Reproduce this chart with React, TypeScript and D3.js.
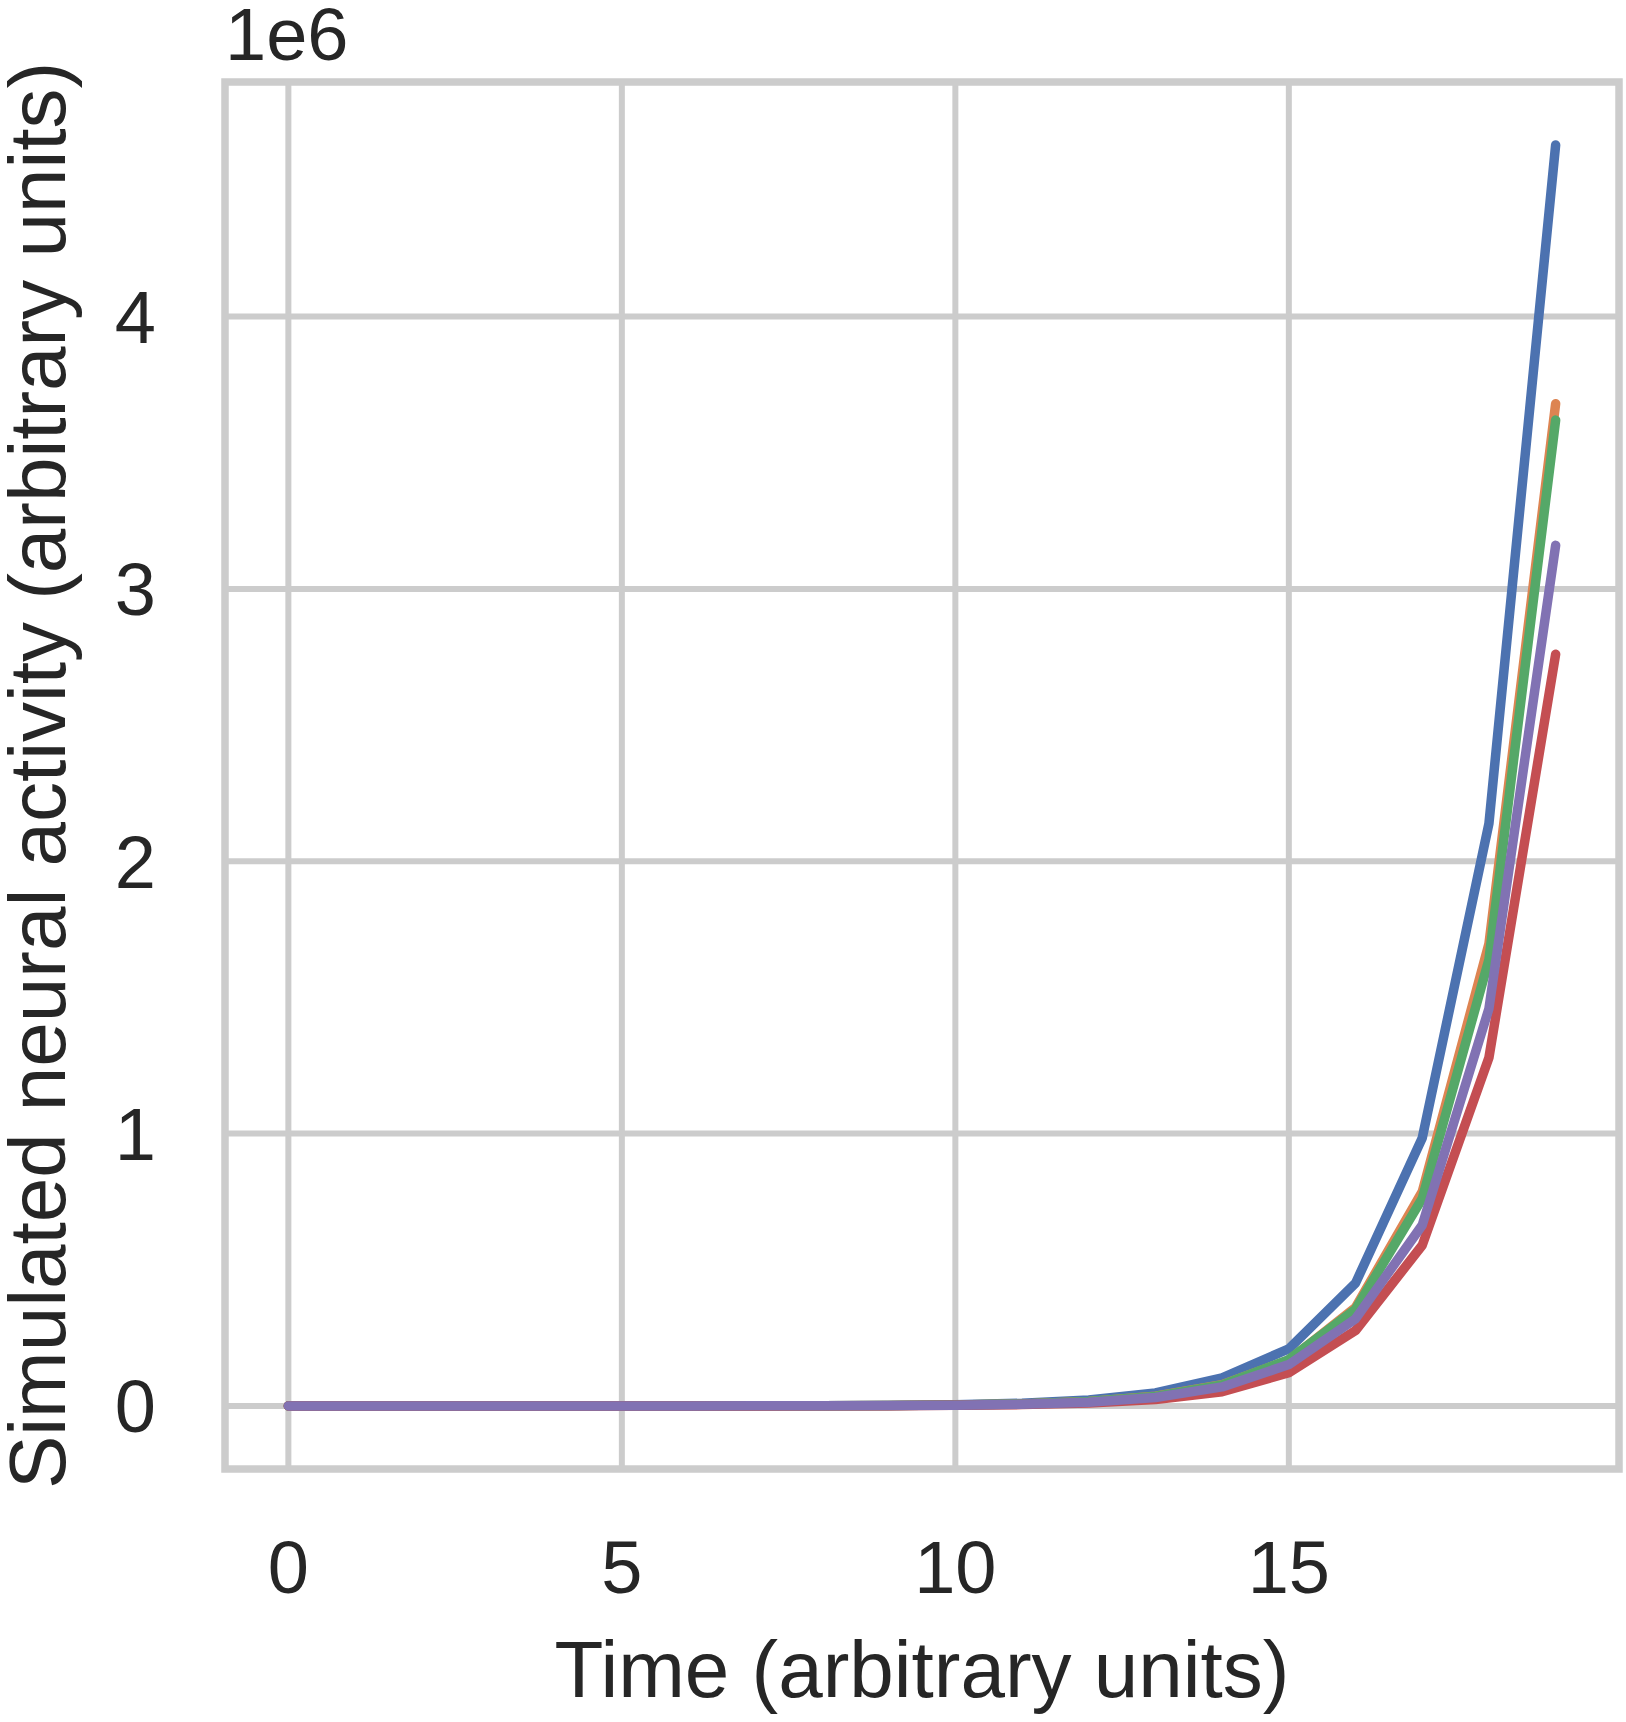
import * as React from 'react';
import * as d3 from 'd3';

// simulated activity per unit, values in millions (offset label 1e6)
const timeSteps = [0, 1, 2, 3, 4, 5, 6, 7, 8, 9, 10, 11, 12, 13, 14, 15, 16, 17, 18, 19];

const unitBlue = [0.000002, 0.000004, 0.000009, 0.00002, 0.00004, 0.00009, 0.0002, 0.0004, 0.0009, 0.002,
  0.0045, 0.0099, 0.022, 0.048, 0.103, 0.21, 0.451, 0.984, 2.139, 4.63];
const unitOrange = [0.000002, 0.000003, 0.000007, 0.000015, 0.00003, 0.00007, 0.00015, 0.0003, 0.0007, 0.0015,
  0.0034, 0.0074, 0.016, 0.036, 0.078, 0.168, 0.362, 0.787, 1.697, 3.68];
const unitGreen = [0.000002, 0.000003, 0.000007, 0.000015, 0.00003, 0.00007, 0.00015, 0.0003, 0.0007, 0.0015,
  0.0033, 0.0072, 0.016, 0.035, 0.077, 0.17, 0.355, 0.762, 1.639, 3.62];
const unitRed = [0.000001, 0.000002, 0.000005, 0.00001, 0.00002, 0.00005, 0.0001, 0.0002, 0.0005, 0.001,
  0.0023, 0.005, 0.011, 0.024, 0.052, 0.122, 0.277, 0.59, 1.279, 2.76];
const unitPurple = [0.000001, 0.000003, 0.000006, 0.000013, 0.00003, 0.00006, 0.00013, 0.0003, 0.0006, 0.0013,
  0.0029, 0.0064, 0.014, 0.031, 0.07, 0.152, 0.32, 0.664, 1.459, 3.16];

const seriesOrder = [unitBlue, unitOrange, unitGreen, unitRed, unitPurple];
const palette = ['#4C72B0', '#DD8452', '#55A868', '#C44E52', '#8172B3'];

const xTicks = [0, 5, 10, 15];
const yTicks = [0, 1, 2, 3, 4];

const W = 1626, H = 1722;
const box = { left: 225, right: 1619, top: 82, bottom: 1469 };
const font = '"Liberation Sans", Arial, sans-serif';
const ink = '#262626';
const gridColor = '#cccccc';

function padded(lo: number, hi: number): [number, number] {
  const m = (hi - lo) * 0.05;
  return [lo - m, hi + m];
}

export default function App() {
  const allVals = seriesOrder.flat();
  const x = d3.scaleLinear()
    .domain(padded(d3.min(timeSteps)!, d3.max(timeSteps)!))
    .range([box.left, box.right]);
  const y = d3.scaleLinear()
    .domain(padded(d3.min(allVals)!, d3.max(allVals)!))
    .range([box.bottom, box.top]);

  const line = d3.line<number>()
    .x((_, i) => x(timeSteps[i]))
    .y(d => y(d));

  const midX = (box.left + box.right) / 2;
  const midY = (box.top + box.bottom) / 2;

  return (
    <svg width={W} height={H} style={{ position: 'absolute', left: 0, top: 0, background: '#fff' }}
      fontFamily={font}>
      <rect x={0} y={0} width={W} height={H} fill="#fff" />
      <g stroke={gridColor} strokeWidth={6}>
        {xTicks.map(t => (
          <line key={'gx' + t} x1={x(t)} x2={x(t)} y1={box.top} y2={box.bottom} />
        ))}
        {yTicks.map(t => (
          <line key={'gy' + t} x1={box.left} x2={box.right} y1={y(t)} y2={y(t)} />
        ))}
      </g>
      {seriesOrder.map((s, i) => (
        <path key={i} d={line(s) || ''} fill="none" stroke={palette[i]} strokeWidth={9.5}
          strokeLinecap="round" strokeLinejoin="round" />
      ))}
      <rect x={box.left} y={box.top} width={box.right - box.left} height={box.bottom - box.top}
        fill="none" stroke={gridColor} strokeWidth={7.5} />
      <g fill={ink} fontSize={74}>
        {xTicks.map(t => (
          <text key={'tx' + t} x={x(t)} y={1593} textAnchor="middle">{t}</text>
        ))}
        {yTicks.map(t => (
          <text key={'ty' + t} x={156} y={y(t)} dy="0.355em" textAnchor="end">{t}</text>
        ))}
        <text x={box.left} y={60}>1e6</text>
      </g>
      <text x={midX} y={1697} fill={ink} fontSize={80} textAnchor="middle">Time (arbitrary units)</text>
      <text transform={`translate(65,${midY}) rotate(-90)`} fill={ink} fontSize={80} textAnchor="middle">
        Simulated neural activity (arbitrary units)
      </text>
    </svg>
  );
}
